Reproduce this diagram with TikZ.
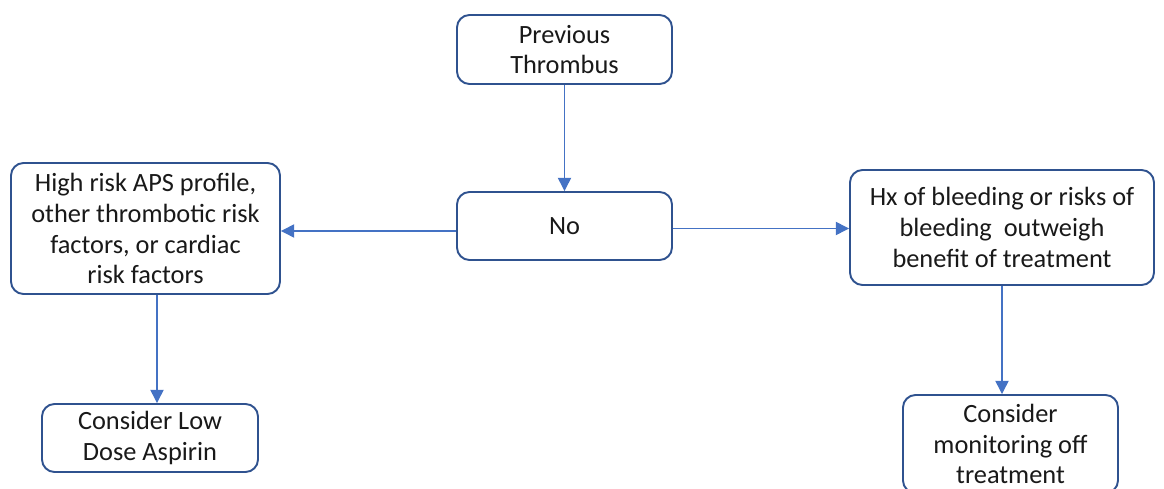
\documentclass[tikz,border=0pt]{standalone}
\usepackage{fontspec}
\setmainfont{Carlito}
\usepackage{tikz}
\usetikzlibrary{arrows.meta,positioning}
\usepackage{xcolor}
\definecolor{boxblue}{RGB}{47,82,143}
\definecolor{arrowblue}{RGB}{68,114,196}
\definecolor{textgray}{RGB}{25,25,25}

\tikzset{
    flowbox/.style={draw=boxblue, line width=1.1pt, rounded corners=0.25cm, fill=white,
        align=center, text=textgray, font=\fontsize{15}{17.6}\selectfont, inner sep=0pt},
    flowarrow/.style={draw=arrowblue, line width=0.8pt, -{Triangle[length=7.5pt,width=7.5pt]}}
}

\begin{document}
\begin{tikzpicture}
\useasboundingbox (0,0) rectangle (23.28,9.78);

% top of the chart
\node[flowbox, minimum width=4.3cm, minimum height=1.38cm] (prev) at (11.29,8.79) {Previous\\Thrombus};
\node[flowbox, minimum width=4.3cm, minimum height=1.36cm] (no) at (11.29,5.26) {No};

% left branch
\node[flowbox, minimum width=5.38cm, minimum height=2.62cm] (highrisk) at (2.91,5.21)
    {High risk APS profile,\\other thrombotic risk\\factors, or cardiac\\risk factors};
\node[flowbox, minimum width=4.32cm, minimum height=1.36cm] (aspirin) at (3.0,1.02)
    {Consider Low\\Dose Aspirin};

% right branch
\node[flowbox, minimum width=6.08cm, minimum height=2.3cm] (bleeding) at (20.04,5.23)
    {Hx of bleeding or risks of\\bleeding\ \ outweigh\\benefit of treatment};
\node[flowbox, minimum width=4.3cm, minimum height=1.96cm] (monitor) at (20.21,0.90)
    {Consider\\monitoring off\\treatment};

% connectors
\draw[flowarrow] (prev.south) -- (no.north);
\draw[flowarrow] ([yshift=-0.1cm]no.west) -- ([yshift=-0.1cm]no.west -| highrisk.east);
\draw[flowarrow] ([yshift=-0.05cm]no.east) -- ([yshift=-0.05cm]no.east -| bleeding.west);
\draw[flowarrow] ([xshift=0.23cm]highrisk.south) -- ([xshift=0.23cm]highrisk.south |- aspirin.north);
\draw[flowarrow] (bleeding.south) -- (bleeding.south |- monitor.north);
\end{tikzpicture}
\end{document}
